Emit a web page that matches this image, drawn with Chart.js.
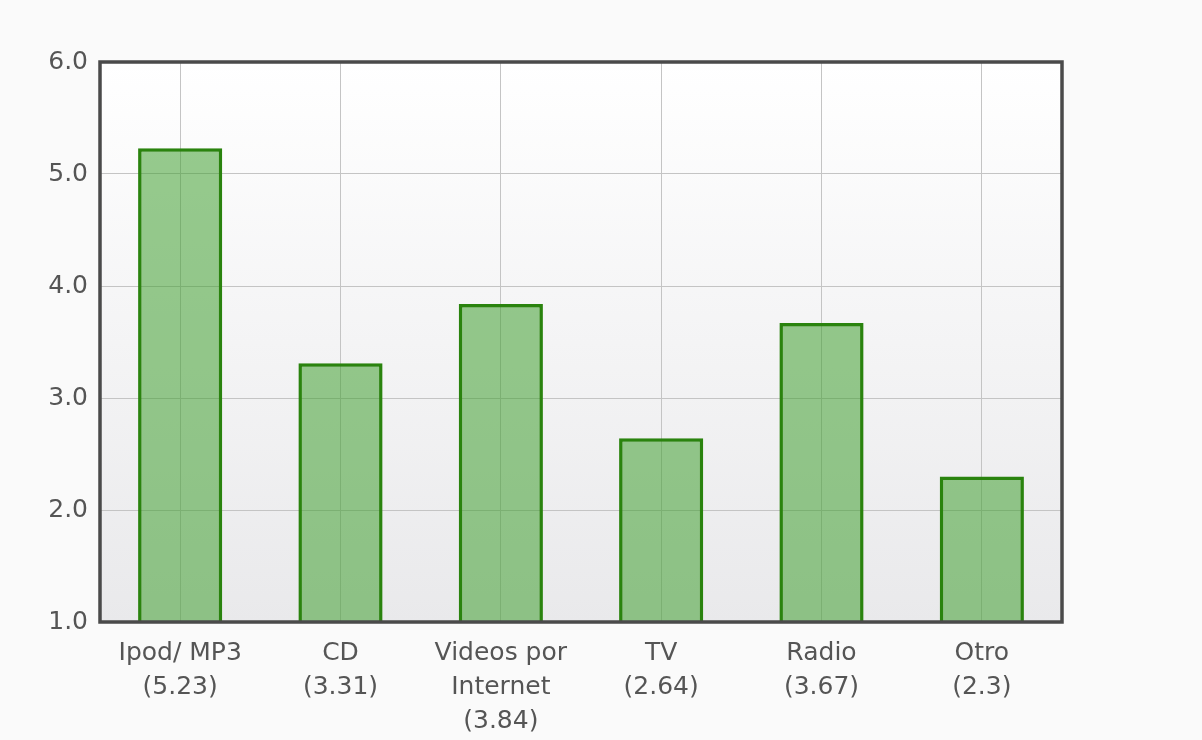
<!DOCTYPE html>
<html>
<head>
<meta charset="utf-8">
<script src="https://cdn.jsdelivr.net/npm/chart.js@4/dist/chart.umd.min.js"></script>
<style>
  html, body { margin: 0; padding: 0; background: #fafafa; }
  #wrap { width: 1202px; height: 740px; }
</style>
</head>
<body>
<div id="wrap"><canvas id="chart" width="1202" height="740"></canvas></div>
<script>
// Categories (multi-line names) and their values
const categories = [["Ipod/ MP3"], ["CD"], ["Videos por", "Internet"], ["TV"], ["Radio"], ["Otro"]];
const values = [5.23, 3.31, 3.84, 2.64, 3.67, 2.3];
const yTicks = [1, 2, 3, 4, 5, 6];

// each x label gets its value appended in brackets
const labels = categories.map((lines, i) => lines.concat("(" + values[i] + ")"));

// plot background + frame
const framePlugin = {
  id: "frame",
  beforeDraw(chart) {
    const { ctx, chartArea: a } = chart;
    const g = ctx.createLinearGradient(0, a.top, 0, a.bottom);
    g.addColorStop(0, "#ffffff");
    g.addColorStop(1, "#e9e9eb");
    ctx.save();
    ctx.fillStyle = g;
    ctx.fillRect(a.left, a.top, a.right - a.left, a.bottom - a.top);
    ctx.restore();
  },
  afterDraw(chart) {
    const { ctx, chartArea: a } = chart;
    ctx.save();
    ctx.strokeStyle = "#4a4a4a";
    ctx.lineWidth = 3.5;
    ctx.strokeRect(a.left, a.top, a.right - a.left, a.bottom - a.top);
    ctx.restore();
  }
};

const ctx = document.getElementById("chart").getContext("2d");
new Chart(ctx, {
  type: "bar",
  data: {
    labels,
    datasets: [{
      data: values,
      backgroundColor: "rgba(62,158,46,0.54)",
      borderColor: "#2a830e",
      borderWidth: 3.5,
      borderSkipped: false,
      categoryPercentage: 1,
      barPercentage: 0.525
    }]
  },
  options: {
    responsive: false,
    animation: false,
    layout: { padding: { left: 0, top: 62, right: 140, bottom: 0 } },
    plugins: {
      legend: { display: false },
      tooltip: { enabled: false }
    },
    scales: {
      x: {
        border: { display: false },
        grid: { offset: false, color: "#c4c4c4", lineWidth: 1, drawTicks: false },
        ticks: {
          color: "#555",
          padding: 14,
          maxRotation: 0,
          autoSkip: false,
          font: { family: "'DejaVu Sans', sans-serif", size: 25, lineHeight: 1.36 }
        },
        afterFit(scale) { scale.height = 118; }
      },
      y: {
        min: yTicks[0],
        max: yTicks[yTicks.length - 1],
        border: { display: false },
        grid: { color: "#c4c4c4", lineWidth: 1, drawTicks: false },
        ticks: {
          stepSize: 1,
          color: "#555",
          padding: 12,
          font: { family: "'DejaVu Sans', sans-serif", size: 25 },
          callback: (v) => Number(v).toFixed(1)
        },
        afterFit(scale) { scale.width = 100; }
      }
    }
  },
  plugins: [framePlugin]
});
</script>
</body>
</html>
